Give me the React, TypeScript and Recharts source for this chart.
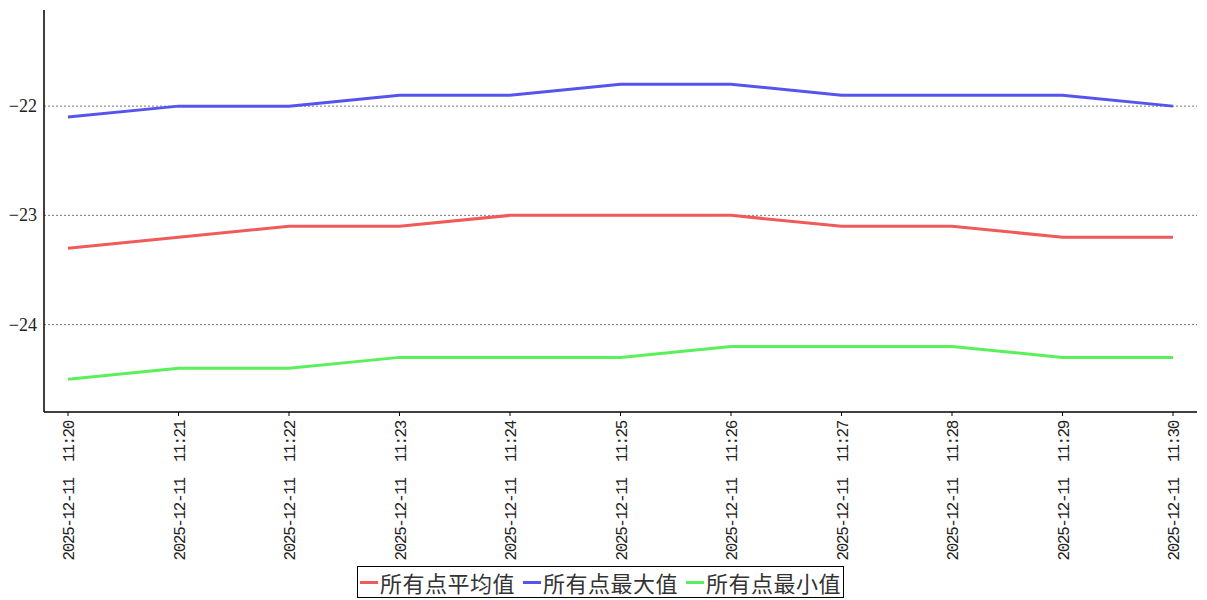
import React from 'react';
import { LineChart, Line, XAxis, YAxis, CartesianGrid, Legend } from 'recharts';

const categories = [
  '2025-12-11  11:20', '2025-12-11  11:21', '2025-12-11  11:22', '2025-12-11  11:23',
  '2025-12-11  11:24', '2025-12-11  11:25', '2025-12-11  11:26', '2025-12-11  11:27',
  '2025-12-11  11:28', '2025-12-11  11:29', '2025-12-11  11:30',
];
const avgValues = [-23.3, -23.2, -23.1, -23.1, -23.0, -23.0, -23.0, -23.1, -23.1, -23.2, -23.2];
const maxValues = [-22.1, -22.0, -22.0, -21.9, -21.9, -21.8, -21.8, -21.9, -21.9, -21.9, -22.0];
const minValues = [-24.5, -24.4, -24.4, -24.3, -24.3, -24.3, -24.2, -24.2, -24.2, -24.3, -24.3];
const yTicks = [-24, -23, -22];
const seriesNames = ['所有点平均值', '所有点最大值', '所有点最小值'];
const seriesColors = ['#f05a5a', '#5555ee', '#5af05a'];

const data = categories.map((c, i) => ({
  time: c,
  avg: avgValues[i],
  max: maxValues[i],
  min: minValues[i],
}));

const SERIF = '"Liberation Serif", "DejaVu Serif", serif';
const MONO = '"Liberation Mono", "DejaVu Sans Mono", monospace';

const XTick = (props: any) => {
  const { x, y, payload } = props;
  return (
    <text
      x={0}
      y={0}
      transform={`translate(${x + 6},${y + 3}) rotate(-90)`}
      textAnchor="end"
      fontSize={16}
      letterSpacing={-1.4}
      fontFamily={MONO}
      fill="#222"
      style={{ whiteSpace: 'pre' }}
    >
      {payload.value}
    </text>
  );
};

const YTick = (props: any) => {
  const { x, y, payload } = props;
  return (
    <text x={x + 1} y={y + 6} textAnchor="end" fontSize={18} fontFamily={SERIF} fill="#222">
      {String(payload.value).replace('-', '\u2212')}
    </text>
  );
};

const LegendContent = () => (
  <div style={{ display: 'flex', justifyContent: 'center' }}>
    <div
      style={{
        display: 'flex',
        alignItems: 'center',
        border: '1px solid #000',
        padding: '0 2px',
        height: 30,
        fontFamily: '"Noto Sans CJK SC", serif',
        fontSize: 22,
        color: '#333',
        marginLeft: 4,
      }}
    >
      {seriesNames.map((n, i) => (
        <div key={n} style={{ display: 'flex', alignItems: 'center', marginRight: i < 2 ? 8 : 0 }}>
          <div style={{ width: 18, height: 3, background: seriesColors[i], marginRight: 2 }} />
          <span style={{ lineHeight: '30px', letterSpacing: 0.5 }}>{n}</span>
        </div>
      ))}
    </div>
  </div>
);

export default function App() {
  return (
    <div style={{ position: 'absolute', left: 0, top: 0, width: 1207, height: 600, background: '#fff' }}>
      <LineChart
        width={1207}
        height={600}
        data={data}
        margin={{ top: 10, right: 10, left: 0, bottom: 0 }}
      >
        <CartesianGrid
          horizontal
          vertical={false}
          stroke="#777"
          strokeDasharray="2 2"
          syncWithTicks
          horizontalValues={yTicks}
        />
        <XAxis
          dataKey="time"
          padding={{ left: 24, right: 24 }}
          axisLine={{ stroke: '#000', strokeWidth: 1.5 }}
          tickLine={{ stroke: '#000' }}
          tickSize={4}
          tick={<XTick />}
          interval={0}
          height={156}
        />
        <YAxis
          domain={[-24.8, -21.12]}
          ticks={yTicks}
          width={44}
          axisLine={{ stroke: '#000', strokeWidth: 1.5 }}
          tickLine={false}
          tick={<YTick />}
          allowDataOverflow
        />
        <Legend verticalAlign="bottom" content={<LegendContent />} wrapperStyle={{ bottom: 2 }} />
        <Line dataKey="avg" name={seriesNames[0]} stroke={seriesColors[0]} strokeWidth={3} dot={false} isAnimationActive={false} />
        <Line dataKey="max" name={seriesNames[1]} stroke={seriesColors[1]} strokeWidth={3} dot={false} isAnimationActive={false} />
        <Line dataKey="min" name={seriesNames[2]} stroke={seriesColors[2]} strokeWidth={3} dot={false} isAnimationActive={false} />
      </LineChart>
    </div>
  );
}
